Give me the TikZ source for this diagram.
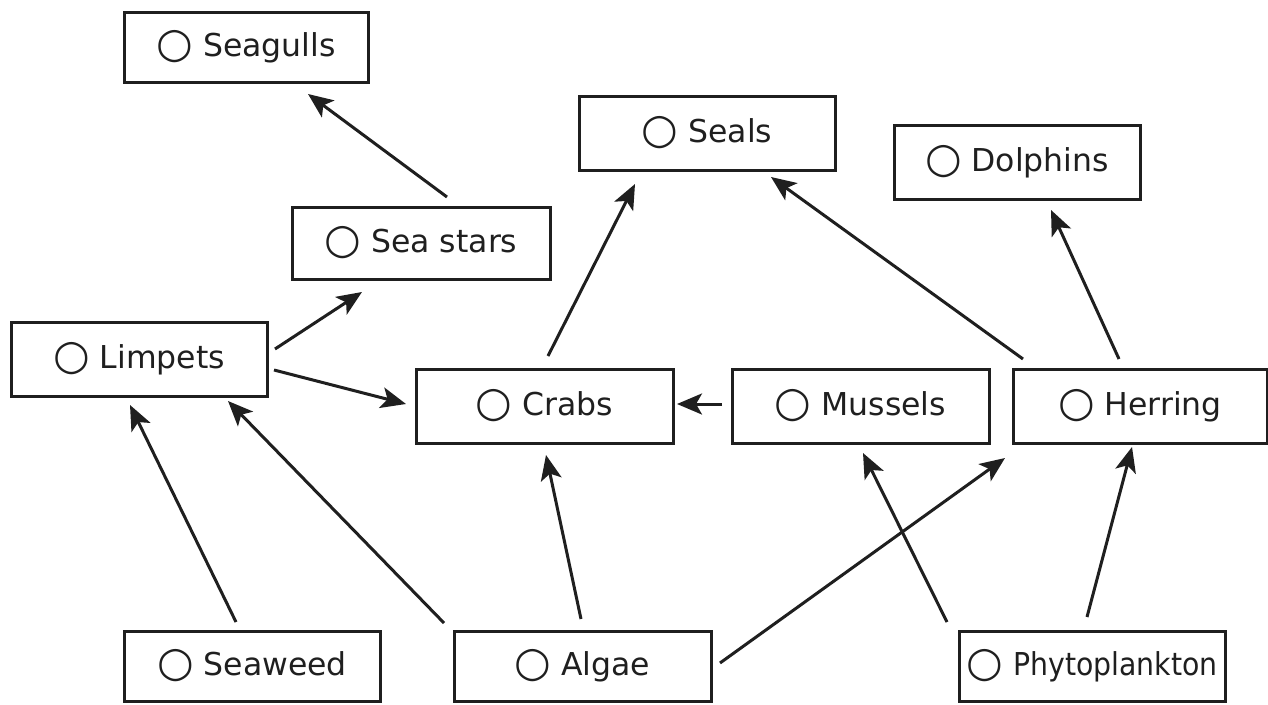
\documentclass[tikz,border=0pt]{standalone}
\usepackage{fontspec}
\setmainfont{DejaVu Sans}
\newfontfamily\condfont[FakeStretch=0.9]{DejaVu Sans}
\newcommand\mycirc{\raisebox{-1.5pt}{\fontsize{42}{42}\selectfont ○}}
\usetikzlibrary{arrows.meta}
\begin{document}
\begin{tikzpicture}[x=1pt,y=-1pt,
  box/.style={draw=black!88,line width=3pt,rectangle,inner sep=0pt,text=black!88,font=\fontsize{31.5}{36}\selectfont},
  arr/.style={line width=3pt,draw=black!88,-{Stealth[length=25pt,width=21pt,inset=6pt]}}]
\useasboundingbox (0,0) rectangle (1268,704);
\node[box,minimum width=244pt,minimum height=70pt] (gulls) at (246,47) {\mycirc\ Seagulls};
\node[box,minimum width=256pt,minimum height=74pt] (seals) at (707,133) {\mycirc\ Seals};
\node[box,minimum width=246pt,minimum height=74pt] (dolph) at (1017,162) {\mycirc\ Dolphins};
\node[box,minimum width=258pt,minimum height=72pt] (stars) at (421,243) {\mycirc\ Sea stars};
\node[box,minimum width=256pt,minimum height=74pt] (limp) at (139,359) {\mycirc\ Limpets};
\node[box,minimum width=257pt,minimum height=74pt] (crabs) at (544.5,406) {\mycirc\ Crabs};
\node[box,minimum width=257pt,minimum height=74pt] (muss) at (860.5,406) {\mycirc\ Mussels};
\node[box,minimum width=254pt,minimum height=74pt] (herr) at (1140,406) {\mycirc\ Herring};
\node[box,minimum width=256pt,minimum height=70pt] (weed) at (252,666) {\mycirc\ Seaweed};
\node[box,minimum width=257pt,minimum height=70pt] (algae) at (582.5,666) {\mycirc\ Algae};
\node[box,minimum width=266pt,minimum height=70pt] (phyto) at (1092,666) {\mycirc\ {\condfont Phytoplankton}};
% arrow end coordinates
\coordinate (a1s) at (447,197); \coordinate (a1e) at (308,94);
\coordinate (a2s) at (275,349); \coordinate (a2e) at (362,292);
\coordinate (a3s) at (274,370); \coordinate (a3e) at (406,404);
\coordinate (a4s) at (236,622); \coordinate (a4e) at (130,405);
\coordinate (a5s) at (444,623); \coordinate (a5e) at (228,401);
\coordinate (a6s) at (581,619); \coordinate (a6e) at (546,455);
\coordinate (a7s) at (720,663); \coordinate (a7e) at (1005,458);
\coordinate (a8s) at (947,622); \coordinate (a8e) at (863,453);
\coordinate (a9s) at (1087,617); \coordinate (a9e) at (1132,447);
\coordinate (a10s) at (548,356); \coordinate (a10e) at (635,184);
\coordinate (a11s) at (1023,359); \coordinate (a11e) at (771,177);
\coordinate (a12s) at (1119,359); \coordinate (a12e) at (1051,210);
\coordinate (a13s) at (722,404); \coordinate (a13e) at (677,404);
\draw[arr] (a1s) -- (a1e);
\draw[arr] (a2s) -- (a2e);
\draw[arr] (a3s) -- (a3e);
\draw[arr] (a4s) -- (a4e);
\draw[arr] (a5s) -- (a5e);
\draw[arr] (a6s) -- (a6e);
\draw[arr] (a7s) -- (a7e);
\draw[arr] (a8s) -- (a8e);
\draw[arr] (a9s) -- (a9e);
\draw[arr] (a10s) -- (a10e);
\draw[arr] (a11s) -- (a11e);
\draw[arr] (a12s) -- (a12e);
\draw[arr] (a13s) -- (a13e);
\end{tikzpicture}
\end{document}
